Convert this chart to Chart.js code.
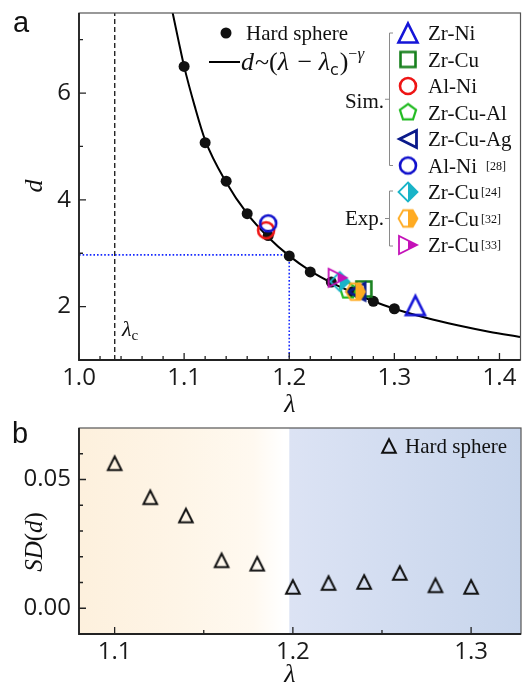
<!DOCTYPE html>
<html>
<head>
<meta charset="utf-8">
<script src="https://cdn.jsdelivr.net/npm/chart.js@4.4.0/dist/chart.umd.min.js"></script>
<style>
  html, body { margin: 0; padding: 0; background: #fff; }
  #wrap { position: relative; width: 526px; height: 682px; overflow: hidden; }
  canvas { position: absolute; left: 0; }
  #chartA { top: 0; }
  #chartB { top: 415px; }
</style>
</head>
<body>
<div id="wrap">
  <canvas id="chartA" width="526" height="415"></canvas>
  <canvas id="chartB" width="526" height="267"></canvas>
</div>
<script>
// ---- panel a: d vs lambda ----
const lambdaHS = [1.10, 1.12, 1.14, 1.16, 1.18, 1.20, 1.22, 1.24, 1.26, 1.28, 1.30];
const dHS = [6.50, 5.07, 4.35, 3.74, 3.33, 2.95, 2.65, 2.46, 2.28, 2.10, 1.96];
// fitted curve
const fitLambda = [1.087, 1.095, 1.10, 1.11, 1.12, 1.14, 1.16, 1.18, 1.20, 1.22, 1.24, 1.26, 1.28, 1.30, 1.33, 1.36, 1.39, 1.42];
const fitD = [7.70, 6.95, 6.50, 5.76, 5.12, 4.33, 3.74, 3.30, 2.95, 2.67, 2.45, 2.27, 2.10, 1.96, 1.79, 1.65, 1.53, 1.43];
const lambdaC = 1.034;
const guideLambda = 1.20;
const guideD = 2.97;

const simNames = ['Zr-Ni', 'Zr-Cu', 'Al-Ni', 'Zr-Cu-Al', 'Zr-Cu-Ag', 'Al-Ni'];
const simRefs = ['', '', '', '', '', '[28]'];
const simLambda = [1.320, 1.271, 1.178, 1.256, 1.264, 1.180];
const simD = [2.02, 2.33, 3.43, 2.30, 2.28, 3.56];

const expNames = ['Zr-Cu', 'Zr-Cu', 'Zr-Cu'];
const expRefs = ['[24]', '[32]', '[33]'];
const expLambda = [1.248, 1.263, 1.246];
const expD = [2.47, 2.28, 2.54];

const xMajorA = [1.0, 1.1, 1.2, 1.3, 1.4];
const xMinorA = [1.02, 1.04, 1.06, 1.08, 1.12, 1.14, 1.16, 1.18, 1.22, 1.24, 1.26, 1.28, 1.32, 1.34, 1.36, 1.38];
const yMajorA = [2, 4, 6];
const yMinorA = [3, 5, 7];

// ---- panel b: SD(d) vs lambda ----
const lambdaSD = [1.10, 1.12, 1.14, 1.16, 1.18, 1.20, 1.22, 1.24, 1.26, 1.28, 1.30];
const sdValues = [0.0563, 0.0431, 0.0360, 0.0186, 0.0173, 0.0083, 0.0098, 0.0102, 0.0137, 0.0089, 0.0083];
const xMajorB = [1.1, 1.2, 1.3];
const xMinorB = [1.15, 1.25];
const yMajorB = [0.00, 0.05];
const yMinorB = [0.01, 0.02, 0.03, 0.04, 0.06];

// marker styles
const simStyles = [
  { shape: 'up', color: '#1515d8', size: 9.5, lw: 2.6 },
  { shape: 'square', color: '#17801d', size: 7.5, lw: 2.6 },
  { shape: 'circle', color: '#ee1515', size: 8, lw: 2.6 },
  { shape: 'pentagon', color: '#22bb22', size: 8.5, lw: 2.2 },
  { shape: 'left', color: '#0a1a8a', size: 8.5, lw: 2.8 },
  { shape: 'circle', color: '#1010cc', size: 8, lw: 2.6 }
];
const expStyles = [
  { shape: 'diamond', color: '#1ab4c8', size: 9.5, lw: 1.8, half: true },
  { shape: 'hexagon', color: '#ffab22', size: 9.5, lw: 1.8, half: true },
  { shape: 'right', color: '#c412b8', size: 9, lw: 1.8, half: true }
];

function shapePath(g, shape, s) {
  g.beginPath();
  if (shape === 'circle') {
    g.arc(0, 0, s, 0, Math.PI * 2);
  } else if (shape === 'square') {
    g.rect(-s, -s, 2 * s, 2 * s);
  } else if (shape === 'up') {
    g.moveTo(0, -s); g.lineTo(s, s); g.lineTo(-s, s); g.closePath();
  } else if (shape === 'left') {
    g.moveTo(-s, 0); g.lineTo(s, -s); g.lineTo(s, s); g.closePath();
  } else if (shape === 'right') {
    g.moveTo(s, 0); g.lineTo(-s, s); g.lineTo(-s, -s); g.closePath();
  } else if (shape === 'diamond') {
    g.moveTo(0, -s); g.lineTo(s, 0); g.lineTo(0, s); g.lineTo(-s, 0); g.closePath();
  } else if (shape === 'pentagon') {
    for (let i = 0; i < 5; i++) {
      const a = -Math.PI / 2 + i * 2 * Math.PI / 5;
      i ? g.lineTo(Math.cos(a) * s, Math.sin(a) * s) : g.moveTo(Math.cos(a) * s, Math.sin(a) * s);
    }
    g.closePath();
  } else if (shape === 'hexagon') {
    for (let i = 0; i < 6; i++) {
      const a = i * Math.PI / 3;
      i ? g.lineTo(Math.cos(a) * s, Math.sin(a) * s) : g.moveTo(Math.cos(a) * s, Math.sin(a) * s);
    }
    g.closePath();
  }
}

function makeMarker(m) {
  const half = Math.ceil(m.size + m.lw + 2);
  const c = document.createElement('canvas');
  c.width = c.height = half * 2;
  const g = c.getContext('2d');
  g.translate(half, half);
  if (m.half) {
    g.save();
    shapePath(g, m.shape, m.size);
    g.clip();
    g.fillStyle = m.color;
    g.fillRect(0, -half, half, 2 * half);
    g.restore();
  }
  shapePath(g, m.shape, m.size);
  g.lineWidth = m.lw;
  g.lineJoin = 'miter';
  g.strokeStyle = m.color;
  g.stroke();
  return c;
}

const simImgs = simStyles.map(makeMarker);
const expImgs = expStyles.map(makeMarker);
const triImg = makeMarker({ shape: 'up', color: '#111', size: 6.8, lw: 2 });

const serif = '"Liberation Serif", "Times New Roman", serif';
const tickFont = { family: '"Open Sans", sans-serif', size: 24 };

function runs(ctx, x, y, parts) {
  for (const p of parts) {
    ctx.font = p[1];
    ctx.fillText(p[0], x, y + (p[2] || 0));
    x += ctx.measureText(p[0]).width + (p[3] || 0);
  }
  return x;
}

function drawFrame(chart, xMaj, xMin, yMaj, yMin) {
  const { ctx, chartArea: a, scales } = chart;
  ctx.save();
  ctx.strokeStyle = '#222';
  ctx.lineWidth = 1.3;
  ctx.beginPath();
  for (const v of xMaj) { const p = scales.x.getPixelForValue(v); ctx.moveTo(p, a.bottom); ctx.lineTo(p, a.bottom - 7); }
  for (const v of xMin) { const p = scales.x.getPixelForValue(v); ctx.moveTo(p, a.bottom); ctx.lineTo(p, a.bottom - 4); }
  for (const v of yMaj) { const p = scales.y.getPixelForValue(v); ctx.moveTo(a.left, p); ctx.lineTo(a.left + 7, p); }
  for (const v of yMin) { const p = scales.y.getPixelForValue(v); ctx.moveTo(a.left, p); ctx.lineTo(a.left + 4, p); }
  ctx.stroke();
  ctx.strokeStyle = '#555';
  ctx.lineWidth = 1.2;
  ctx.strokeRect(a.left, a.top, a.right - a.left, a.bottom - a.top);
  ctx.strokeStyle = '#222';
  ctx.lineWidth = 1.8;
  ctx.beginPath();
  ctx.moveTo(a.left, a.top); ctx.lineTo(a.left, a.bottom); ctx.lineTo(a.right, a.bottom);
  ctx.stroke();
  ctx.restore();
}

function noPad(s) {
  s.paddingTop = 0; s.paddingBottom = 0; s.paddingLeft = 0; s.paddingRight = 0;
}
function scaleX(min, max, majors, height) {
  return {
    type: 'linear', min, max,
    grid: { display: false, drawTicks: false }, border: { display: false },
    afterBuildTicks: s => { s.ticks = majors.map(v => ({ value: v })); },
    afterFit: s => { s.height = height; noPad(s); },
    ticks: { font: tickFont, color: '#1a1a1a', padding: 4, maxRotation: 0, autoSkip: false,
      callback: v => v.toFixed(1) }
  };
}
function scaleY(min, max, majors, digits) {
  return {
    type: 'linear', min, max,
    grid: { display: false, drawTicks: false }, border: { display: false },
    afterBuildTicks: s => { s.ticks = majors.map(v => ({ value: v })); },
    afterFit: s => { s.width = 79; noPad(s); },
    ticks: { font: tickFont, color: '#1a1a1a', padding: 8, autoSkip: false,
      callback: v => v.toFixed(digits) }
  };
}

// ---------------- chart a ----------------
const pts = (xs, ys) => xs.map((x, i) => ({ x, y: ys[i] }));
const datasetsA = [];
datasetsA.push({ data: pts(fitLambda, fitD), borderColor: '#000', borderWidth: 2, pointRadius: 0,
  cubicInterpolationMode: 'monotone', order: 20 });
datasetsA.push({ data: [{ x: lambdaC, y: 1 }, { x: lambdaC, y: 7.5 }], borderColor: '#111', borderWidth: 1.3,
  borderDash: [5, 3], pointRadius: 0, order: 22 });
datasetsA.push({ data: [{ x: 1.0, y: guideD }, { x: guideLambda, y: guideD }], borderColor: '#1428ff', borderWidth: 1.6,
  borderDash: [1.6, 2], pointRadius: 0, order: 21 });
datasetsA.push({ data: [{ x: guideLambda, y: guideD }, { x: guideLambda, y: 1 }], borderColor: '#1428ff', borderWidth: 1.6,
  borderDash: [1.6, 2], pointRadius: 0, order: 21 });
datasetsA.push({ data: pts(lambdaHS, dHS), showLine: false, pointStyle: 'circle', pointRadius: 5.5,
  pointBackgroundColor: '#111', pointBorderColor: '#111', pointBorderWidth: 0, order: 19 });
simLambda.forEach((x, i) => datasetsA.push({ data: [{ x, y: simD[i] }], showLine: false,
  pointStyle: simImgs[i], order: 18 - i }));
expLambda.forEach((x, i) => datasetsA.push({ data: [{ x, y: expD[i] }], showLine: false,
  pointStyle: expImgs[i], order: 10 - i }));

const decorA = {
  id: 'decorA',
  afterDatasetsDraw(chart) {
    drawFrame(chart, xMajorA, xMinorA, yMajorA, yMinorA);
  },
  afterDraw(chart) {
    const ctx = chart.ctx;
    ctx.save();
    ctx.fillStyle = '#111';
    ctx.textBaseline = 'alphabetic';
    // panel letter
    ctx.font = '29px "Liberation Sans", Arial, sans-serif';
    ctx.fillText('a', 13, 32);
    // axis titles
    ctx.font = 'italic 26px ' + serif;
    ctx.textAlign = 'center';
    ctx.fillText('\u03bb', 290, 412);
    ctx.save();
    ctx.translate(42, 186);
    ctx.rotate(-Math.PI / 2);
    ctx.fillText('d', 0, 0);
    ctx.restore();
    ctx.textAlign = 'left';
    // lambda_c label
    runs(ctx, 122, 336, [['\u03bb', 'italic 22px ' + serif], ['c', '15px ' + serif, 4]]);
    // hard sphere + fit legend
    ctx.beginPath();
    ctx.arc(226, 33, 5.5, 0, Math.PI * 2);
    ctx.fill();
    ctx.font = '21px ' + serif;
    ctx.fillText('Hard sphere', 246, 40);
    ctx.strokeStyle = '#000';
    ctx.lineWidth = 2;
    ctx.beginPath(); ctx.moveTo(209, 62); ctx.lineTo(240, 62); ctx.stroke();
    const it = 'italic 26px ' + serif, rm = '26px ' + serif;
    runs(ctx, 241, 70, [['d', it, 0, 1], ['~', rm], ['(', rm], ['\u03bb', it, 0, 2], [' \u2212 ', rm],
      ['\u03bb', it], ['c', '16px "DejaVu Sans", sans-serif', 5, 1], [')', rm],
      ['\u2212', '16px ' + serif, -11], ['\u03b3', 'italic 17px ' + serif, -11]]);
    // material legend
    const names = simNames.concat(expNames);
    const refs = simRefs.concat(expRefs);
    const imgs = simImgs.concat(expImgs);
    names.forEach((n, i) => {
      const y = 33 + i * 26.5;
      const im = imgs[i];
      ctx.drawImage(im, 408 - im.width / 2, y - im.height / 2);
      ctx.font = '21px ' + serif;
      ctx.fillText(n, 428, y + 7);
      if (refs[i]) {
        const w = ctx.measureText(n).width;
        ctx.font = '12px ' + serif;
        ctx.fillText(refs[i], 428 + w + (i === 5 ? 9 : 2), y + 4);
      }
    });
    // brackets
    ctx.strokeStyle = '#8a8a8a';
    ctx.lineWidth = 1;
    const bracket = (y0, y1) => {
      const ym = (y0 + y1) / 2;
      ctx.beginPath();
      ctx.moveTo(393, y0); ctx.lineTo(389.5, y0); ctx.lineTo(389.5, y1); ctx.lineTo(393, y1);
      ctx.moveTo(385, ym); ctx.lineTo(389.5, ym);
      ctx.stroke();
      return ym;
    };
    const ySim = bracket(33, 165.5);
    const yExp = bracket(191, 246);
    ctx.font = '21px ' + serif;
    ctx.textAlign = 'right';
    ctx.fillText('Sim.', 384, ySim + 9);
    ctx.fillText('Exp.', 384, yExp + 6);
    ctx.restore();
  }
};

new Chart(document.getElementById('chartA'), {
  type: 'line',
  data: { datasets: datasetsA },
  options: {
    responsive: false, animation: false, devicePixelRatio: 1,
    layout: { padding: { top: 13, right: 4, left: 0, bottom: 0 } },
    plugins: { legend: { display: false }, tooltip: { enabled: false } },
    scales: { x: scaleX(1.0, 1.42, xMajorA, 55), y: scaleY(1, 7.5, yMajorA, 0) }
  },
  plugins: [decorA]
});

// ---------------- chart b ----------------
const decorB = {
  id: 'decorB',
  beforeDatasetsDraw(chart) {
    const { ctx, chartArea: a, scales } = chart;
    const xw = scales.x.getPixelForValue(1.195);
    const xb = scales.x.getPixelForValue(1.198);
    const go = ctx.createLinearGradient(a.left, 0, xw, 0);
    go.addColorStop(0, '#fdf0dd');
    go.addColorStop(0.5, '#fef5e7');
    go.addColorStop(0.85, '#fff9f0');
    go.addColorStop(1, '#ffffff');
    ctx.fillStyle = go;
    ctx.fillRect(a.left, a.top, xw - a.left, a.bottom - a.top);
    ctx.fillStyle = '#ffffff';
    ctx.fillRect(xw, a.top, xb - xw, a.bottom - a.top);
    const gb = ctx.createLinearGradient(xb, 0, a.right, 0);
    gb.addColorStop(0, '#dce3f4');
    gb.addColorStop(1, '#c7d5ec');
    ctx.fillStyle = gb;
    ctx.fillRect(xb, a.top, a.right - xb, a.bottom - a.top);
  },
  afterDatasetsDraw(chart) {
    drawFrame(chart, xMajorB, xMinorB, yMajorB, yMinorB);
  },
  afterDraw(chart) {
    const ctx = chart.ctx;
    ctx.save();
    ctx.fillStyle = '#111';
    ctx.font = '29px "Liberation Sans", Arial, sans-serif';
    ctx.fillText('b', 12, 28);
    ctx.font = 'italic 26px ' + serif;
    ctx.textAlign = 'center';
    ctx.fillText('\u03bb', 290, 267);
    // SD(d) rotated
    ctx.save();
    ctx.translate(42, 127);
    ctx.rotate(-Math.PI / 2);
    ctx.textAlign = 'left';
    const it = 'italic 25px ' + serif, rm = '25px ' + serif;
    let total = 0;
    const parts = [['SD', it], ['(', rm], ['d', it], [')', rm]];
    parts.forEach(p => { ctx.font = p[1]; total += ctx.measureText(p[0]).width; });
    runs(ctx, -total / 2, 0, parts);
    ctx.restore();
    // legend
    ctx.drawImage(triImg, 389 - triImg.width / 2, 31 - triImg.height / 2);
    ctx.textAlign = 'left';
    ctx.font = '21px ' + serif;
    ctx.fillText('Hard sphere', 405, 38);
    ctx.restore();
  }
};

new Chart(document.getElementById('chartB'), {
  type: 'line',
  data: {
    datasets: [{ data: pts(lambdaSD, sdValues), showLine: false, pointStyle: triImg }]
  },
  options: {
    responsive: false, animation: false, devicePixelRatio: 1,
    layout: { padding: { top: 13, right: 4, left: 0, bottom: 0 } },
    plugins: { legend: { display: false }, tooltip: { enabled: false } },
    scales: { x: scaleX(1.08, 1.328, xMajorB, 48), y: scaleY(-0.01, 0.07, yMajorB, 2) }
  },
  plugins: [decorB]
});
</script>
</body>
</html>
